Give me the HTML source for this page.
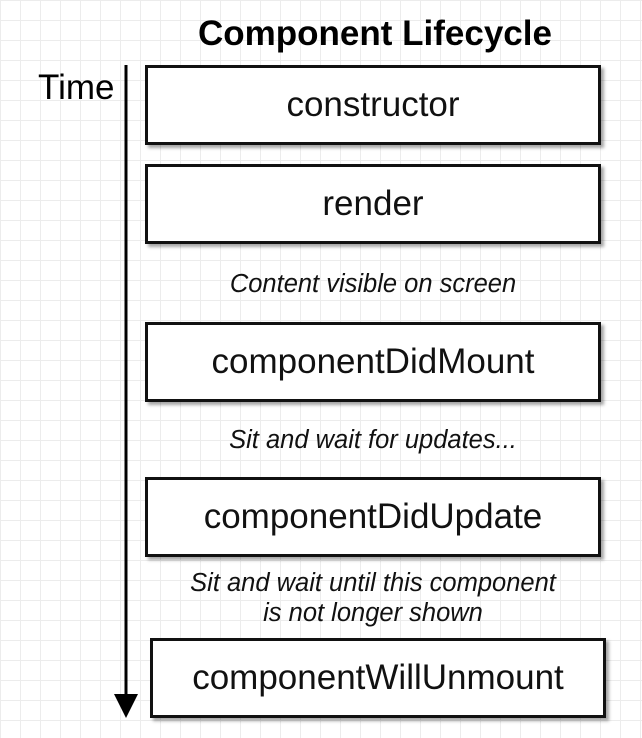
<!DOCTYPE html>
<html><head><style>
body{margin:0;width:642px;height:738px;overflow:hidden;background:#fff;
background-image:linear-gradient(#ececec 1px,transparent 1px),linear-gradient(90deg,#ececec 1px,transparent 1px);background-size:20px 20px;
font-family:"Liberation Sans",sans-serif;position:relative}
.b{position:absolute;border:3px solid #111;background:#fff;box-sizing:border-box;display:flex;align-items:center;justify-content:center;font-size:35px;color:#111;box-shadow:3px 3px 3px rgba(0,0,0,.35)}
.t{position:absolute;font-style:italic;font-size:25.5px;color:#111;text-align:center;width:500px;left:123px;line-height:30px}
</style></head><body>
<div style="position:absolute;left:0;width:750px;top:14px;text-align:center;font-weight:bold;font-size:35px;color:#000">Component Lifecycle</div>
<div style="position:absolute;left:38px;top:68px;font-size:35px">Time</div>
<svg style="position:absolute;left:0;top:0" width="642" height="738">
<line x1="126" y1="65" x2="126" y2="700" stroke="#000" stroke-width="3"/>
<polygon points="114,694 138,694 126,718" fill="#000"/>
</svg>
<div class="b" style="left:145px;top:65px;width:456px;height:80px">constructor</div>
<div class="b" style="left:145px;top:164px;width:456px;height:80px">render</div>
<div class="t" style="top:269px">Content visible on screen</div>
<div class="b" style="left:145px;top:322px;width:456px;height:80px">componentDidMount</div>
<div class="t" style="top:425px">Sit and wait for updates...</div>
<div class="b" style="left:145px;top:477px;width:456px;height:80px">componentDidUpdate</div>
<div class="t" style="top:568px">Sit and wait until this component<br>is not longer shown</div>
<div class="b" style="left:150px;top:638px;width:456px;height:80px">componentWillUnmount</div>
</body></html>
